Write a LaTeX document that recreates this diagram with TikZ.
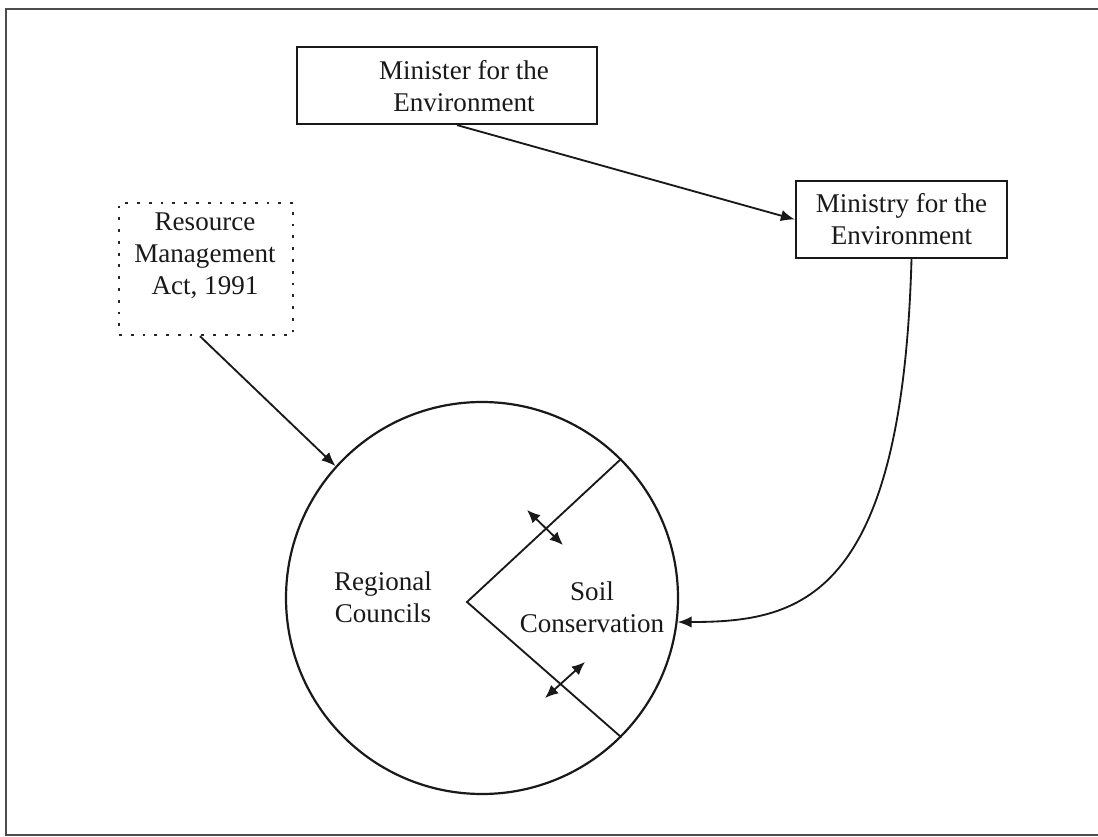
\documentclass[tikz,border=0pt]{standalone}
\usepackage{fontspec}
\setmainfont{Liberation Serif}
\usetikzlibrary{arrows.meta,calc}
\begin{document}
\begin{tikzpicture}[x=0.02cm,y=-0.02cm,
  every node/.style={font=\fontsize{15.4}{18.3}\selectfont, text=black!90},
  boxed/.style={draw=black!90, line width=1.25pt, rectangle, inner sep=0pt},
  dotbox/.style={draw=black!85, line width=1.4pt, rectangle, inner sep=0pt,
                 dash pattern=on 1.6pt off 5.1pt},
  label/.style={align=center, inner sep=0pt},
  conn/.style={draw=black!90, line width=1.05pt},
  tip/.style={-{Latex[length=8pt,width=6.5pt]}},
  twotip/.style={{Latex[length=7.5pt,width=6.5pt]}-{Latex[length=7.5pt,width=6.5pt]}}]
  \useasboundingbox (0,0) rectangle (1098,837);
  % page frame
  \draw[black!70, line width=1.3pt] (1100,9) -- (6,9) -- (6,835) -- (1100,835);

  % boxes
  \node[boxed, minimum width=300*0.02cm, minimum height=77*0.02cm] (minbox) at (447,85.5) {};
  \node[label] (mintext) at (464,86) {Minister for the\\Environment};
  \node[boxed, minimum width=211*0.02cm, minimum height=77*0.02cm, label, draw] (ministry) at (901.5,219.5) {Ministry for the\\Environment};
  \node[dotbox, minimum width=174*0.02cm, minimum height=132*0.02cm] (rma) at (206,269) {};
  \node[label] (rmatext) at (205,256) {Resource\\Management\\Act, 1991};

  % regional councils circle with soil conservation wedge
  \node[draw=black!90, line width=1.25pt, circle, minimum size=392*0.02cm, inner sep=0pt] (circ) at (482,598) {};
  \coordinate (vtx) at (467,602);
  \draw[conn] (circ.45) -- (vtx) -- (circ.-45);
  \node[label] (regional) at (383,597) {Regional\\Councils};
  \node[label] (soil) at (592,607) {Soil\\Conservation};

  % interactions across the wedge boundary
  \coordinate (a1) at (527,510);
  \coordinate (a2) at (563,545);
  \coordinate (b1) at (545,698);
  \coordinate (b2) at (585,662);
  \draw[conn, twotip] (a1) -- (a2);
  \draw[conn, twotip] (b1) -- (b2);

  % connectors
  \draw[conn, tip] ($(minbox.south)+(10,0)$) -- (ministry.west);
  \draw[conn, tip] ($(rma.south)+(-6,0)$) -- (circ.138.5);
  \draw[conn, tip] ($(ministry.south)+(10,0)$) .. controls (902,600) and (800,622) .. (circ.-7);
\end{tikzpicture}
\end{document}
